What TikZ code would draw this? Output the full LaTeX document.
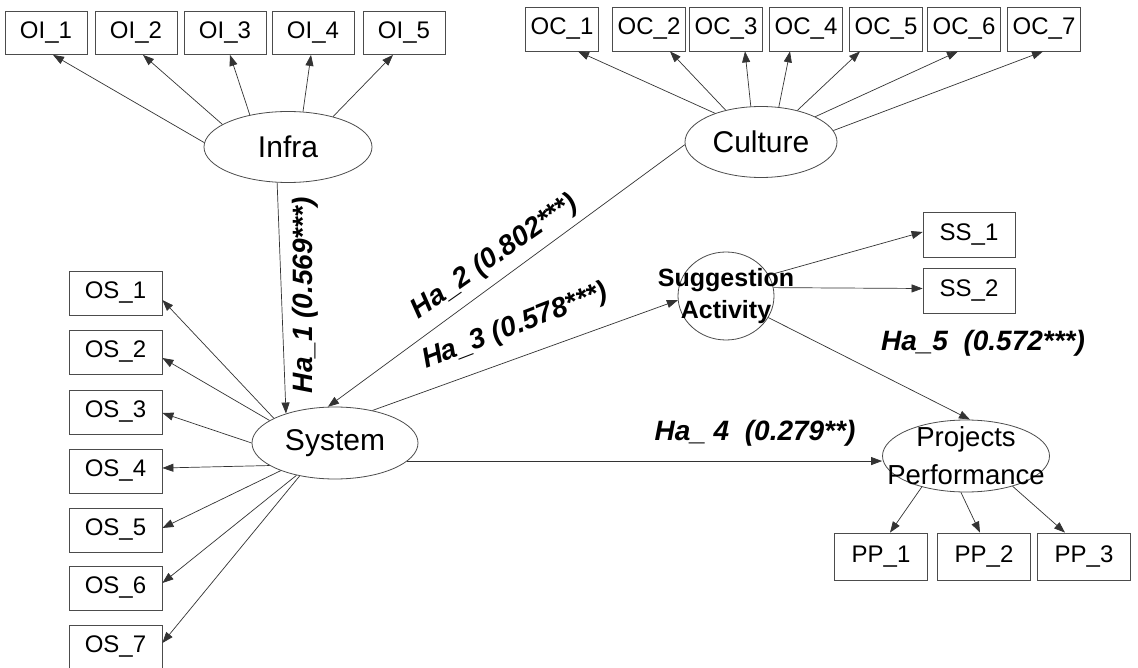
\documentclass[tikz,border=0pt]{standalone}
\usepackage{fontspec}
\setmainfont{Liberation Sans}
\usetikzlibrary{arrows.meta,shapes.geometric}
\begin{document}
\begin{tikzpicture}[x=1pt,y=-1pt,
  obs/.style={draw=black!70, line width=0.8pt, inner sep=0pt, minimum height=44pt, font=\fontsize{24}{28}\selectfont},
  lat/.style={draw=black!70, line width=0.8pt, ellipse, inner sep=0pt},
  lbl/.style={font=\fontsize{30}{34}\selectfont},
  hyp/.style={font=\fontsize{28}{32}\selectfont\bfseries\itshape, inner sep=0pt},
  con/.style={draw=black!80, line width=0.7pt, -{Triangle[length=11pt,width=8pt]}}]
\useasboundingbox[fill=white] (0,0) rectangle (1138,668);
% latent variables
\node[lat, minimum width=168pt, minimum height=71pt, label={[lbl]center:Infra}] (infra) at (288,147) {};
\node[lat, minimum width=152pt, minimum height=71pt, label={[lbl]center:Culture}] (cult) at (761,142) {};
\node[lat, minimum width=166pt, minimum height=72pt, label={[lbl]center:System}] (sys) at (335,443) {};
\node[lat, minimum width=96pt, minimum height=88pt, label={[align=center, font=\fontsize{25}{32}\selectfont\bfseries]center:Suggestion\\Activity}] (sug) at (726,296) {};
\node[lat, minimum width=167pt, minimum height=72pt, label={[align=center, font=\fontsize{27.5}{38}\selectfont]center:Projects\\Performance}] (pp) at (966,456) {};
% OI
\foreach \i/\x in {1/46,2/136,3/225,4/313,5/404}
  \node[obs, minimum width=82pt, minimum height=43pt] (oi\i) at (\x,33) {OI\_\i};
% OC
\foreach \i/\x in {1/562,2/649,3/726,4/806,5/886,6/964,7/1044}
  \node[obs, minimum width=73pt] (oc\i) at (\x,29) {OC\_\i};
% OS
\foreach \i/\y in {1/293,2/352,3/412,4/471,5/530,6/588,7/647}
  \node[obs, minimum width=93pt] (os\i) at (115.5,\y) {OS\_\i};
% SS
\node[obs, minimum width=92pt, minimum height=45pt] (ss1) at (969,235) {SS\_1};
\node[obs, minimum width=92pt, minimum height=45pt] (ss2) at (969,290.5) {SS\_2};
% PP
\foreach \i/\x in {1/881,2/984,3/1084}
  \node[obs, minimum width=93pt, minimum height=47pt] (pp\i) at (\x,556.5) {PP\_\i};
% Infra indicators
\draw[con] (infra.177) -- ([xshift=7pt]oi1.south);
\draw[con] (infra.161) -- ([xshift=7pt]oi2.south);
\draw[con] (infra.140) -- ([xshift=5pt]oi3.south);
\draw[con] (infra.67) -- ([xshift=-2pt]oi4.south);
\draw[con] (infra.34) -- ([xshift=-11pt]oi5.south);
% Culture indicators
\draw[con] (cult.148) -- ([xshift=16pt]oc1.south);
\draw[con] (cult.138) -- ([xshift=21pt]oc2.south);
\draw[con] (cult.106) -- ([xshift=19pt]oc3.south);
\draw[con] (cult.63) -- ([xshift=-16pt]oc4.south);
\draw[con] (cult.41) -- ([xshift=-26pt]oc5.south);
\draw[con] (cult.25) -- ([xshift=-6pt]oc6.south);
\draw[con] (cult.9) -- ([xshift=-1pt]oc7.south);
% System indicators
\draw[con] (sys.158) -- ([yshift=-7pt]os1.east);
\draw[con] (sys.161) -- ([yshift=-6pt]os2.east);
\draw[con] (sys.180) -- ([yshift=-1pt]os3.east);
\draw[con] (sys.199) -- ([yshift=3pt]os4.east);
\draw[con] (sys.207) -- ([yshift=2pt]os5.east);
\draw[con] (sys.220) -- ([yshift=5pt]os6.east);
\draw[con] (sys.223) -- ([yshift=4pt]os7.east);
% Suggestion indicators
\draw[con] (sug.26) -- ([yshift=3pt]ss1.west);
\draw[con] (sug.10) -- ([yshift=2pt]ss2.west);
% PP indicators
\draw[con] (pp.215) -- ([xshift=9pt]pp1.north);
\draw[con] (pp.262) -- ([xshift=-4pt]pp2.north);
\draw[con] (pp.327) -- ([xshift=-19pt]pp3.north);
% structural paths
\draw[con] (infra.253) -- (sys.149);
\draw[con] (cult.182) -- (sys.101);
\draw[con] (sys.41) -- (sug.185);
\draw[con] (sys.346) -- (sys.346 -| pp.west);
\draw[con] (sug.333) -- ([xshift=4pt]pp.north);
% labels
\node[hyp, rotate=90] (h1) at (305,295) {Ha\_1 (0.569***)};
\node[hyp, rotate=35] (h2) at (495,257) {Ha\_2 (0.802***)};
\node[hyp, rotate=21] (h3) at (515,327) {Ha\_3 (0.578***)};
\node[hyp] (h4) at (755,433) {Ha\_ 4\ \ (0.279**)};
\node[hyp] (h5) at (983,343) {Ha\_5\ \ (0.572***)};
\end{tikzpicture}
\end{document}
